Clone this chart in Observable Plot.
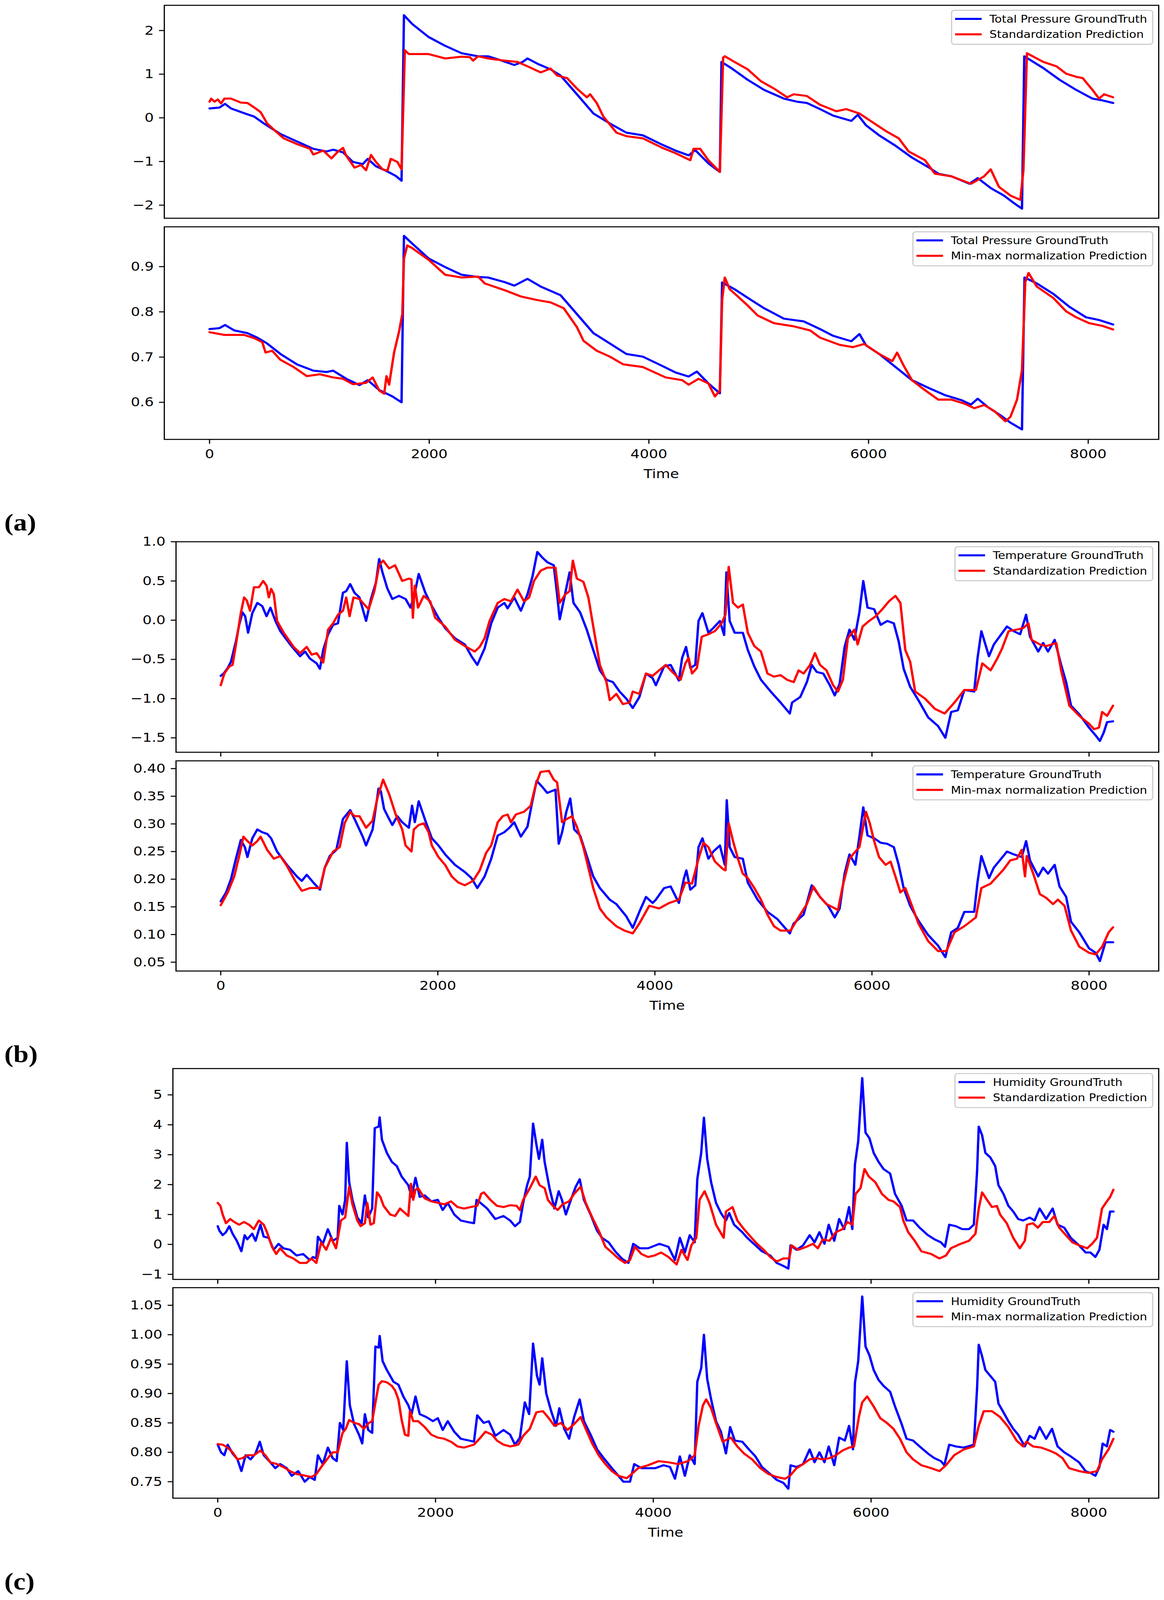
<!DOCTYPE html>
<html><head><meta charset="utf-8">
<script src="https://cdn.jsdelivr.net/npm/d3@7"></script>
<script src="https://cdn.jsdelivr.net/npm/@observablehq/plot@0.6"></script>
<style>
html,body{margin:0;padding:0;background:#fff;overflow:hidden;}
#fig{position:relative;width:2979px;height:4659px;background:#fff;overflow:hidden;transform-origin:0 0;}
#fig svg{position:absolute;left:0;max-width:none !important;overflow:visible;}
</style></head><body><div id="fig"></div><script>
// ---------- DATA (time, value) ----------
const xTicks = [0, 2000, 4000, 6000, 8000];

const pressureStdTruth = [[0,0.215],[90,0.235],[141,0.32],[195,0.215],[345,0.08],[405,0.03],[495,-0.13],[645,-0.37],[795,-0.54],[945,-0.71],[1065,-0.77],[1125,-0.73],[1215,-0.79],[1305,-1.01],[1395,-1.06],[1440,-0.94],[1515,-1.11],[1605,-1.21],[1695,-1.33],[1748,-1.44],[1770,2.35],[1845,2.15],[1995,1.85],[2145,1.65],[2295,1.48],[2445,1.41],[2535,1.41],[2625,1.34],[2775,1.21],[2850,1.28],[2895,1.36],[2985,1.24],[3105,1.11],[3195,0.97],[3345,0.54],[3495,0.10],[3645,-0.13],[3795,-0.34],[3945,-0.40],[4125,-0.62],[4242,-0.75],[4362,-0.86],[4422,-0.74],[4541,-1.04],[4646,-1.24],[4661,1.28],[4750,1.14],[4900,0.87],[5049,0.64],[5229,0.44],[5349,0.37],[5439,0.34],[5558,0.20],[5678,0.05],[5843,-0.07],[5902,0.07],[5977,-0.17],[6096,-0.40],[6246,-0.64],[6395,-0.91],[6545,-1.13],[6635,-1.28],[6755,-1.34],[6919,-1.51],[6994,-1.38],[7113,-1.61],[7232,-1.78],[7322,-1.95],[7397,-2.08],[7418,1.41],[7591,1.14],[7740,0.87],[7890,0.64],[8039,0.44],[8129,0.40],[8227,0.34]];
const pressureStdPred = [[0,0.37],[15,0.44],[45,0.37],[75,0.42],[105,0.33],[135,0.44],[195,0.44],[285,0.35],[345,0.34],[405,0.24],[465,0.13],[525,-0.13],[585,-0.27],[675,-0.47],[795,-0.60],[915,-0.71],[945,-0.84],[1035,-0.75],[1110,-0.93],[1170,-0.77],[1215,-0.69],[1245,-0.87],[1320,-1.14],[1380,-1.08],[1425,-1.20],[1470,-0.85],[1515,-1.01],[1575,-1.18],[1620,-1.21],[1650,-0.94],[1710,-1.01],[1748,-1.18],[1778,1.55],[1815,1.46],[1995,1.46],[2145,1.36],[2295,1.40],[2370,1.39],[2400,1.31],[2445,1.41],[2535,1.36],[2685,1.31],[2805,1.28],[2895,1.18],[3015,1.04],[3105,1.13],[3165,0.97],[3255,0.91],[3345,0.67],[3435,0.47],[3465,0.54],[3525,0.34],[3585,0.03],[3705,-0.34],[3795,-0.42],[3945,-0.47],[4125,-0.69],[4242,-0.81],[4377,-0.97],[4407,-0.71],[4467,-0.71],[4541,-0.97],[4646,-1.24],[4676,1.38],[4691,1.41],[4780,1.28],[4900,1.11],[5019,0.84],[5139,0.67],[5259,0.47],[5318,0.54],[5438,0.50],[5558,0.30],[5707,0.15],[5797,0.20],[5916,0.10],[6036,-0.10],[6156,-0.30],[6275,-0.47],[6365,-0.77],[6514,-0.97],[6604,-1.28],[6754,-1.34],[6933,-1.51],[7052,-1.34],[7112,-1.18],[7187,-1.58],[7292,-1.78],[7382,-1.88],[7410,-1.2],[7442,1.48],[7591,1.28],[7711,1.18],[7800,1.01],[7890,0.94],[7950,0.91],[8039,0.64],[8099,0.44],[8144,0.54],[8227,0.47]];
const pressureMmTruth = [[0,0.762],[90,0.764],[141,0.771],[225,0.759],[345,0.753],[435,0.743],[525,0.730],[645,0.707],[795,0.684],[945,0.670],[1065,0.667],[1125,0.670],[1245,0.652],[1365,0.638],[1440,0.649],[1545,0.627],[1665,0.613],[1748,0.600],[1770,0.968],[1845,0.951],[1995,0.918],[2145,0.899],[2295,0.882],[2445,0.877],[2535,0.876],[2685,0.866],[2775,0.858],[2895,0.873],[3015,0.856],[3195,0.837],[3345,0.795],[3495,0.753],[3645,0.730],[3795,0.707],[3945,0.701],[4125,0.680],[4242,0.666],[4362,0.657],[4437,0.668],[4541,0.642],[4646,0.620],[4667,0.865],[4780,0.850],[4900,0.831],[5049,0.808],[5229,0.785],[5408,0.779],[5558,0.762],[5678,0.747],[5843,0.735],[5917,0.751],[5977,0.726],[6096,0.707],[6246,0.678],[6395,0.649],[6545,0.632],[6695,0.616],[6844,0.605],[6933,0.595],[6994,0.608],[7083,0.590],[7203,0.571],[7292,0.555],[7397,0.540],[7420,0.876],[7531,0.863],[7681,0.840],[7830,0.811],[7980,0.788],[8099,0.782],[8227,0.772]];
const pressureMmPred = [[0,0.755],[135,0.749],[315,0.749],[405,0.742],[480,0.733],[510,0.710],[570,0.714],[645,0.694],[765,0.678],[885,0.658],[1005,0.662],[1125,0.655],[1215,0.652],[1305,0.640],[1425,0.643],[1485,0.655],[1545,0.626],[1590,0.619],[1611,0.658],[1635,0.639],[1680,0.710],[1725,0.756],[1755,0.795],[1770,0.918],[1800,0.947],[1845,0.941],[1995,0.915],[2145,0.882],[2295,0.876],[2445,0.878],[2505,0.863],[2685,0.848],[2835,0.834],[2985,0.826],[3105,0.821],[3225,0.808],[3345,0.766],[3405,0.736],[3525,0.714],[3645,0.701],[3765,0.684],[3945,0.678],[4153,0.655],[4302,0.649],[4362,0.639],[4452,0.652],[4541,0.642],[4601,0.613],[4646,0.626],[4667,0.827],[4691,0.876],[4736,0.850],[4810,0.834],[4900,0.814],[4990,0.792],[5139,0.775],[5318,0.768],[5468,0.759],[5558,0.743],[5737,0.727],[5857,0.722],[5961,0.729],[6096,0.707],[6216,0.691],[6260,0.710],[6320,0.681],[6395,0.649],[6485,0.632],[6634,0.606],[6754,0.606],[6874,0.597],[6963,0.587],[7053,0.594],[7143,0.581],[7247,0.558],[7292,0.568],[7352,0.606],[7397,0.671],[7427,0.866],[7457,0.886],[7531,0.856],[7681,0.831],[7800,0.801],[7890,0.788],[8009,0.775],[8129,0.769],[8227,0.761]];

const tempStdTruth = [[0,-0.71],[27,-0.68],[64,-0.61],[94,-0.53],[140,-0.27],[170,-0.06],[200,0.10],[225,0.05],[252,-0.16],[291,0.09],[337,0.22],[382,0.18],[422,0.05],[458,0.16],[504,-0.01],[549,-0.14],[640,-0.31],[731,-0.46],[777,-0.40],[822,-0.49],[883,-0.55],[914,-0.62],[944,-0.38],[989,-0.18],[1035,-0.06],[1080,-0.04],[1126,0.35],[1156,0.37],[1193,0.46],[1232,0.35],[1278,0.29],[1339,-0.01],[1384,0.27],[1430,0.48],[1460,0.78],[1490,0.61],[1536,0.40],[1581,0.27],[1642,0.31],[1703,0.27],[1748,0.16],[1788,0.35],[1824,0.59],[1885,0.35],[1945,0.18],[2006,0.03],[2067,-0.10],[2158,-0.23],[2249,-0.31],[2310,-0.46],[2364,-0.57],[2431,-0.36],[2492,-0.04],[2552,0.16],[2613,0.22],[2643,0.15],[2704,0.29],[2765,0.12],[2826,0.33],[2871,0.55],[2917,0.87],[2962,0.80],[3008,0.74],[3068,0.70],[3099,0.33],[3123,0.01],[3160,0.25],[3214,0.61],[3250,0.22],[3311,0.10],[3372,-0.12],[3432,-0.38],[3493,-0.64],[3554,-0.76],[3614,-0.79],[3675,-0.91],[3736,-1.00],[3796,-1.12],[3857,-0.98],[3918,-0.68],[3979,-0.74],[4009,-0.83],[4085,-0.59],[4145,-0.57],[4221,-0.77],[4251,-0.48],[4287,-0.34],[4327,-0.61],[4372,-0.57],[4402,-0.01],[4438,0.09],[4493,-0.16],[4538,-0.10],[4599,-0.01],[4638,-0.19],[4659,0.61],[4689,-0.01],[4735,-0.16],[4810,-0.16],[4856,-0.38],[4916,-0.59],[4977,-0.76],[5067,-0.91],[5158,-1.05],[5243,-1.19],[5264,-1.05],[5339,-0.98],[5400,-0.79],[5445,-0.57],[5491,-0.66],[5551,-0.68],[5612,-0.83],[5657,-0.96],[5702,-0.81],[5748,-0.34],[5793,-0.12],[5838,-0.25],[5884,0.10],[5920,0.50],[5959,0.16],[6020,0.14],[6080,-0.06],[6141,-0.01],[6201,-0.04],[6246,-0.27],[6292,-0.62],[6352,-0.85],[6428,-1.02],[6518,-1.24],[6609,-1.35],[6676,-1.50],[6730,-1.17],[6791,-1.15],[6851,-0.89],[6942,-0.91],[6972,-0.49],[7008,-0.14],[7078,-0.46],[7123,-0.31],[7154,-0.25],[7244,-0.08],[7305,-0.14],[7365,-0.18],[7420,0.07],[7456,-0.21],[7532,-0.40],[7577,-0.29],[7622,-0.40],[7683,-0.25],[7743,-0.57],[7789,-0.79],[7834,-1.09],[7910,-1.20],[8000,-1.37],[8061,-1.47],[8100,-1.54],[8136,-1.43],[8166,-1.30],[8221,-1.29]];
const tempStdPred = [[0,-0.83],[33,-0.68],[79,-0.59],[109,-0.57],[140,-0.31],[185,0.09],[215,0.29],[240,0.25],[270,0.12],[306,0.42],[352,0.42],[391,0.50],[422,0.44],[443,0.29],[464,0.40],[489,0.33],[519,-0.01],[580,-0.16],[671,-0.34],[731,-0.42],[792,-0.34],[838,-0.44],[883,-0.42],[944,-0.54],[989,-0.12],[1035,-0.04],[1080,0.07],[1126,0.12],[1156,0.29],[1187,0.05],[1223,0.29],[1278,0.27],[1323,0.20],[1363,0.14],[1415,0.37],[1460,0.70],[1496,0.76],[1551,0.66],[1606,0.70],[1672,0.50],[1733,0.53],[1757,0.52],[1770,0.03],[1788,0.44],[1818,0.16],[1870,0.31],[1930,0.24],[1976,0.03],[2067,-0.08],[2158,-0.25],[2249,-0.33],[2340,-0.40],[2386,-0.34],[2431,-0.23],[2477,-0.01],[2552,0.22],[2613,0.27],[2674,0.24],[2734,0.39],[2795,0.24],[2841,0.29],[2886,0.50],[2947,0.63],[3008,0.67],[3084,0.67],[3123,0.22],[3175,0.33],[3214,0.37],[3244,0.76],[3281,0.53],[3341,0.49],[3387,0.29],[3432,-0.08],[3493,-0.57],[3554,-0.79],[3584,-1.02],[3645,-0.94],[3705,-1.07],[3766,-1.05],[3796,-0.91],[3857,-0.94],[3918,-0.68],[3979,-0.71],[4039,-0.64],[4100,-0.57],[4160,-0.66],[4236,-0.76],[4281,-0.55],[4311,-0.48],[4342,-0.68],[4387,-0.61],[4432,-0.21],[4493,-0.18],[4553,-0.14],[4614,-0.04],[4650,0.07],[4680,0.68],[4720,0.22],[4765,0.16],[4810,0.20],[4856,-0.16],[4916,-0.33],[4977,-0.40],[5037,-0.68],[5097,-0.72],[5158,-0.70],[5218,-0.76],[5279,-0.79],[5324,-0.64],[5370,-0.68],[5430,-0.57],[5475,-0.42],[5521,-0.57],[5581,-0.64],[5642,-0.83],[5687,-0.91],[5732,-0.76],[5778,-0.23],[5838,-0.12],[5868,-0.31],[5914,-0.08],[5974,-0.01],[6035,0.05],[6095,0.14],[6156,0.24],[6216,0.31],[6262,0.22],[6307,-0.38],[6352,-0.53],[6398,-0.91],[6489,-1.00],[6579,-1.13],[6670,-1.19],[6760,-1.05],[6851,-0.89],[6957,-0.89],[7017,-0.55],[7093,-0.64],[7154,-0.49],[7199,-0.36],[7259,-0.14],[7335,-0.12],[7395,-0.10],[7441,-0.04],[7471,-0.25],[7547,-0.31],[7607,-0.33],[7698,-0.29],[7743,-0.64],[7819,-1.09],[7910,-1.22],[8000,-1.32],[8046,-1.39],[8091,-1.37],[8121,-1.17],[8166,-1.22],[8221,-1.09]];
const tempMmTruth = [[0,0.160],[49,0.176],[94,0.200],[140,0.237],[185,0.271],[222,0.258],[246,0.240],[291,0.274],[337,0.290],[382,0.285],[428,0.282],[464,0.274],[519,0.250],[610,0.226],[701,0.205],[747,0.197],[792,0.208],[853,0.194],[914,0.181],[959,0.221],[1005,0.242],[1065,0.253],[1126,0.309],[1193,0.325],[1247,0.303],[1308,0.277],[1339,0.261],[1399,0.290],[1454,0.364],[1475,0.359],[1505,0.327],[1551,0.309],[1581,0.298],[1627,0.314],[1672,0.303],[1733,0.293],[1763,0.333],[1788,0.303],[1824,0.341],[1885,0.306],[1945,0.274],[2006,0.261],[2067,0.245],[2158,0.226],[2249,0.213],[2310,0.202],[2364,0.184],[2431,0.205],[2492,0.237],[2552,0.279],[2613,0.285],[2659,0.293],[2704,0.303],[2765,0.277],[2826,0.295],[2871,0.341],[2911,0.378],[2962,0.367],[3008,0.356],[3084,0.362],[3114,0.264],[3145,0.285],[3184,0.322],[3220,0.346],[3257,0.290],[3311,0.279],[3372,0.242],[3432,0.205],[3493,0.184],[3584,0.163],[3645,0.155],[3736,0.133],[3796,0.112],[3857,0.141],[3918,0.168],[3979,0.157],[4009,0.163],[4085,0.184],[4145,0.187],[4221,0.157],[4266,0.200],[4290,0.216],[4327,0.181],[4372,0.189],[4402,0.258],[4438,0.274],[4493,0.237],[4538,0.250],[4599,0.261],[4644,0.226],[4662,0.343],[4689,0.258],[4735,0.240],[4810,0.237],[4856,0.194],[4946,0.163],[5037,0.141],[5128,0.128],[5243,0.102],[5279,0.120],[5370,0.136],[5445,0.189],[5521,0.168],[5596,0.152],[5657,0.131],[5702,0.147],[5748,0.210],[5793,0.245],[5847,0.226],[5884,0.277],[5920,0.330],[5959,0.279],[6020,0.274],[6080,0.266],[6141,0.264],[6201,0.258],[6246,0.226],[6292,0.184],[6352,0.152],[6428,0.125],[6518,0.099],[6609,0.080],[6676,0.059],[6730,0.104],[6791,0.112],[6851,0.141],[6942,0.141],[6972,0.194],[7008,0.242],[7078,0.202],[7123,0.221],[7169,0.232],[7244,0.250],[7305,0.245],[7380,0.240],[7420,0.269],[7456,0.234],[7532,0.205],[7577,0.221],[7622,0.210],[7683,0.226],[7728,0.187],[7789,0.168],[7834,0.123],[7910,0.104],[8000,0.075],[8061,0.067],[8100,0.052],[8151,0.086],[8221,0.086]];
const tempMmPred = [[0,0.153],[64,0.176],[124,0.205],[170,0.242],[209,0.277],[246,0.269],[291,0.261],[337,0.269],[367,0.277],[428,0.253],[489,0.237],[549,0.242],[610,0.224],[686,0.197],[747,0.179],[822,0.184],[914,0.184],[959,0.221],[1035,0.250],[1096,0.258],[1141,0.301],[1193,0.322],[1232,0.314],[1278,0.314],[1339,0.293],[1399,0.306],[1445,0.348],[1496,0.380],[1551,0.354],[1612,0.317],[1672,0.290],[1703,0.261],[1757,0.250],[1779,0.290],[1824,0.298],[1870,0.301],[1915,0.285],[1945,0.261],[2006,0.240],[2067,0.226],[2128,0.205],[2189,0.194],[2249,0.189],[2325,0.197],[2386,0.216],[2446,0.248],[2492,0.261],[2552,0.303],[2598,0.314],[2643,0.317],[2674,0.303],[2719,0.317],[2795,0.322],[2856,0.333],[2901,0.370],[2947,0.394],[3023,0.396],[3068,0.380],[3099,0.375],[3145,0.303],[3190,0.309],[3236,0.314],[3281,0.295],[3341,0.258],[3387,0.221],[3432,0.184],[3493,0.147],[3554,0.131],[3645,0.115],[3721,0.107],[3796,0.102],[3857,0.120],[3948,0.152],[4039,0.147],[4130,0.157],[4221,0.163],[4281,0.194],[4342,0.192],[4402,0.237],[4447,0.266],[4493,0.258],[4553,0.232],[4629,0.218],[4650,0.216],[4680,0.301],[4720,0.269],[4765,0.237],[4810,0.210],[4856,0.202],[4916,0.184],[4977,0.163],[5037,0.136],[5097,0.115],[5158,0.107],[5249,0.107],[5339,0.136],[5400,0.155],[5460,0.187],[5521,0.168],[5581,0.155],[5642,0.149],[5687,0.144],[5732,0.189],[5793,0.237],[5838,0.248],[5884,0.258],[5944,0.322],[5980,0.301],[6020,0.269],[6065,0.240],[6126,0.226],[6171,0.232],[6216,0.205],[6262,0.176],[6307,0.184],[6368,0.152],[6428,0.120],[6518,0.088],[6609,0.070],[6685,0.070],[6760,0.104],[6851,0.115],[6957,0.131],[7008,0.184],[7093,0.192],[7154,0.205],[7214,0.218],[7274,0.234],[7335,0.237],[7380,0.253],[7410,0.205],[7426,0.242],[7486,0.210],[7547,0.173],[7607,0.166],[7668,0.155],[7713,0.163],[7774,0.152],[7834,0.107],[7910,0.078],[8000,0.067],[8061,0.064],[8121,0.078],[8181,0.104],[8221,0.113]];

const humStdTruth = [[0,0.61],[15,0.46],[45,0.31],[75,0.41],[106,0.61],[136,0.36],[175,0.12],[217,-0.23],[247,0.31],[271,0.17],[317,0.36],[347,0.12],[392,0.66],[422,0.26],[468,0.22],[513,-0.18],[558,0.02],[603,-0.13],[664,-0.18],[724,-0.37],[784,-0.32],[845,-0.52],[875,-0.42],[905,-0.47],[920,0.26],[965,0.02],[1011,0.51],[1056,0.12],[1101,0.22],[1116,1.29],[1146,1.00],[1170,1.49],[1185,3.40],[1207,2.08],[1237,1.49],[1282,0.90],[1321,0.71],[1351,1.64],[1382,0.90],[1418,1.20],[1442,3.89],[1478,3.94],[1487,4.25],[1508,3.50],[1553,3.06],[1599,2.76],[1644,2.62],[1689,2.27],[1750,1.98],[1780,1.59],[1816,2.23],[1855,1.59],[1900,1.64],[1961,1.44],[2021,1.49],[2066,1.15],[2112,1.39],[2172,1.00],[2232,0.80],[2293,0.75],[2353,0.71],[2377,1.49],[2413,1.39],[2474,1.20],[2549,0.85],[2624,0.95],[2685,0.80],[2730,0.61],[2775,0.75],[2805,1.39],[2841,1.98],[2866,2.27],[2896,4.04],[2926,3.35],[2950,2.86],[2980,3.50],[3002,2.76],[3047,1.88],[3092,1.20],[3131,1.78],[3161,1.49],[3197,1.00],[3243,1.49],[3288,1.93],[3324,2.18],[3363,1.49],[3424,1.00],[3484,0.46],[3529,0.22],[3590,0.07],[3650,-0.23],[3710,-0.47],[3771,-0.62],[3816,0.02],[3876,-0.13],[3952,-0.13],[4057,0.02],[4139,-0.08],[4199,-0.52],[4244,0.22],[4290,-0.27],[4335,0.31],[4380,0.07],[4404,2.18],[4440,3.06],[4465,4.24],[4495,2.86],[4531,2.08],[4576,1.39],[4621,1.05],[4667,0.80],[4697,1.05],[4742,0.66],[4817,0.41],[4863,0.22],[4923,0.02],[4998,-0.23],[5074,-0.37],[5134,-0.62],[5195,-0.72],[5240,-0.81],[5261,-0.03],[5315,-0.18],[5376,-0.03],[5436,0.31],[5481,0.07],[5526,0.41],[5572,0.02],[5611,0.66],[5662,0.12],[5707,0.85],[5753,0.51],[5798,1.25],[5828,0.51],[5852,2.67],[5882,3.45],[5919,5.56],[5949,3.74],[5985,3.55],[6024,3.06],[6069,2.76],[6115,2.52],[6175,2.37],[6220,1.69],[6281,1.29],[6326,0.80],[6386,0.80],[6446,0.56],[6522,0.31],[6582,0.17],[6642,0.07],[6679,-0.08],[6718,0.66],[6778,0.61],[6838,0.51],[6899,0.51],[6944,0.66],[6974,2.47],[6989,3.94],[7020,3.65],[7050,3.06],[7095,2.91],[7140,2.62],[7170,1.98],[7216,1.69],[7261,1.29],[7306,1.10],[7351,0.85],[7397,0.80],[7457,0.90],[7502,0.80],[7548,1.20],[7608,0.85],[7668,1.20],[7713,0.66],[7774,0.56],[7834,0.22],[7910,-0.03],[7970,-0.27],[8015,-0.27],[8060,-0.42],[8097,-0.18],[8136,0.66],[8166,0.51],[8196,1.10],[8226,1.10]];
const humStdPred = [[0,1.39],[24,1.29],[45,1.00],[75,0.71],[115,0.85],[151,0.75],[196,0.66],[241,0.75],[287,0.66],[332,0.51],[377,0.80],[422,0.66],[452,0.41],[498,-0.08],[537,-0.32],[573,-0.13],[634,-0.37],[694,-0.47],[754,-0.62],[815,-0.62],[860,-0.47],[905,-0.62],[950,0.07],[996,-0.18],[1041,0.22],[1086,-0.13],[1131,0.80],[1170,0.90],[1207,1.93],[1237,1.34],[1282,0.80],[1312,0.61],[1351,0.71],[1373,1.39],[1403,0.66],[1433,0.71],[1463,1.74],[1493,1.59],[1523,1.29],[1584,1.00],[1629,0.95],[1674,1.20],[1750,0.95],[1774,2.03],[1795,1.49],[1816,1.83],[1840,1.88],[1900,1.54],[1961,1.44],[2021,1.39],[2081,1.34],[2142,1.44],[2202,1.25],[2262,1.20],[2323,1.25],[2383,1.29],[2419,1.69],[2443,1.74],[2504,1.49],[2564,1.29],[2624,1.25],[2685,1.31],[2745,1.29],[2775,1.15],[2805,1.49],[2866,1.88],[2920,2.27],[2956,1.98],[3002,1.88],[3032,1.49],[3077,1.29],[3122,1.15],[3167,1.34],[3227,1.44],[3273,1.69],[3333,1.93],[3379,1.39],[3439,0.90],[3499,0.46],[3560,-0.08],[3620,-0.27],[3680,-0.47],[3741,-0.62],[3786,-0.52],[3831,-0.08],[3891,-0.32],[3952,-0.42],[4012,-0.37],[4072,-0.27],[4139,-0.42],[4214,-0.67],[4259,-0.18],[4314,-0.52],[4350,-0.03],[4395,0.22],[4425,1.49],[4471,1.78],[4516,1.39],[4576,0.66],[4646,0.22],[4667,1.10],[4727,1.25],[4772,0.80],[4833,0.51],[4893,0.26],[4953,0.02],[5014,-0.18],[5074,-0.42],[5134,-0.57],[5195,-0.47],[5249,-0.47],[5270,-0.03],[5330,-0.18],[5406,-0.08],[5466,0.02],[5511,-0.13],[5557,0.17],[5617,0.12],[5677,0.41],[5738,0.51],[5783,0.75],[5828,0.66],[5858,1.69],[5903,1.88],[5940,2.52],[5979,2.27],[6039,2.08],[6100,1.69],[6160,1.49],[6205,1.44],[6266,1.25],[6296,0.80],[6341,0.41],[6401,0.12],[6462,-0.23],[6552,-0.32],[6628,-0.47],[6688,-0.37],[6733,-0.13],[6823,0.02],[6899,0.12],[6959,0.36],[6989,1.20],[7020,1.74],[7065,1.49],[7110,1.25],[7155,1.29],[7185,1.00],[7246,0.71],[7306,0.22],[7366,-0.13],[7412,0.12],[7433,0.66],[7487,0.71],[7532,0.56],[7577,0.75],[7638,0.75],[7683,0.95],[7728,0.56],[7789,0.31],[7849,0.07],[7910,-0.03],[7985,-0.13],[8030,0.02],[8075,0.22],[8121,1.20],[8166,1.44],[8196,1.59],[8226,1.83]];
const humMmTruth = [[0,0.813],[30,0.800],[60,0.795],[91,0.813],[136,0.798],[181,0.788],[217,0.768],[256,0.795],[302,0.788],[347,0.798],[386,0.818],[422,0.795],[483,0.783],[528,0.773],[573,0.780],[634,0.773],[679,0.760],[739,0.768],[799,0.750],[845,0.758],[890,0.753],[920,0.795],[965,0.780],[1011,0.808],[1056,0.790],[1092,0.785],[1122,0.850],[1152,0.838],[1185,0.955],[1213,0.880],[1252,0.848],[1297,0.830],[1327,0.815],[1351,0.865],[1382,0.838],[1418,0.833],[1448,0.980],[1478,0.978],[1487,0.998],[1514,0.955],[1553,0.940],[1614,0.920],[1659,0.915],[1704,0.895],[1750,0.880],[1780,0.865],[1816,0.895],[1855,0.865],[1915,0.860],[1976,0.853],[2021,0.858],[2066,0.838],[2112,0.853],[2172,0.835],[2232,0.823],[2308,0.820],[2353,0.818],[2383,0.863],[2443,0.850],[2489,0.853],[2549,0.828],[2624,0.838],[2685,0.830],[2730,0.813],[2775,0.825],[2820,0.885],[2860,0.865],[2896,0.985],[2932,0.930],[2956,0.915],[2980,0.960],[3017,0.900],[3062,0.870],[3107,0.845],[3137,0.875],[3182,0.840],[3227,0.823],[3273,0.860],[3324,0.890],[3363,0.853],[3424,0.830],[3484,0.805],[3545,0.790],[3620,0.773],[3680,0.760],[3725,0.750],[3786,0.750],[3825,0.780],[3891,0.773],[3982,0.773],[4018,0.773],[4094,0.778],[4154,0.775],[4199,0.755],[4244,0.793],[4290,0.760],[4335,0.795],[4380,0.780],[4404,0.920],[4440,0.943],[4465,1.000],[4495,0.925],[4531,0.890],[4576,0.853],[4621,0.835],[4667,0.798],[4706,0.843],[4748,0.820],[4817,0.818],[4878,0.805],[4938,0.793],[4998,0.775],[5074,0.763],[5134,0.753],[5195,0.748],[5240,0.738],[5261,0.778],[5315,0.775],[5376,0.780],[5436,0.805],[5481,0.783],[5526,0.800],[5572,0.783],[5611,0.810],[5662,0.778],[5707,0.825],[5759,0.820],[5798,0.845],[5834,0.805],[5852,0.918],[5882,0.955],[5919,1.065],[5949,0.980],[5985,0.965],[6024,0.940],[6069,0.923],[6115,0.913],[6175,0.903],[6220,0.878],[6281,0.848],[6326,0.823],[6386,0.820],[6446,0.810],[6522,0.798],[6582,0.790],[6642,0.785],[6673,0.778],[6718,0.813],[6778,0.810],[6853,0.808],[6944,0.813],[6974,0.910],[6989,0.983],[7020,0.963],[7050,0.940],[7095,0.930],[7140,0.920],[7170,0.883],[7216,0.868],[7261,0.853],[7306,0.840],[7351,0.830],[7412,0.810],[7457,0.828],[7502,0.823],[7548,0.843],[7608,0.823],[7662,0.840],[7713,0.810],[7774,0.800],[7834,0.793],[7910,0.783],[7970,0.768],[8015,0.765],[8060,0.760],[8097,0.775],[8127,0.815],[8166,0.810],[8196,0.838],[8226,0.835]];
const humMmPred = [[0,0.814],[45,0.813],[91,0.808],[136,0.800],[181,0.788],[226,0.790],[271,0.795],[332,0.795],[392,0.803],[437,0.795],[483,0.783],[543,0.780],[603,0.775],[664,0.768],[724,0.763],[784,0.761],[860,0.758],[905,0.763],[950,0.775],[1011,0.790],[1056,0.800],[1101,0.800],[1146,0.833],[1176,0.840],[1207,0.855],[1252,0.850],[1297,0.848],[1342,0.840],[1388,0.850],[1418,0.853],[1448,0.885],[1478,0.915],[1508,0.921],[1553,0.919],[1599,0.913],[1629,0.905],[1659,0.890],[1689,0.855],[1719,0.830],[1750,0.828],[1765,0.870],[1795,0.853],[1840,0.853],[1900,0.843],[1961,0.830],[2021,0.825],[2081,0.823],[2142,0.818],[2202,0.810],[2262,0.808],[2353,0.813],[2413,0.825],[2458,0.835],[2519,0.830],[2564,0.820],[2624,0.813],[2685,0.810],[2760,0.813],[2805,0.828],[2866,0.840],[2926,0.868],[2986,0.870],[3032,0.860],[3092,0.845],[3152,0.850],[3212,0.838],[3273,0.848],[3333,0.860],[3379,0.840],[3439,0.815],[3499,0.795],[3560,0.780],[3620,0.768],[3680,0.760],[3756,0.756],[3801,0.763],[3861,0.773],[3952,0.778],[4048,0.785],[4139,0.783],[4229,0.780],[4320,0.785],[4380,0.795],[4416,0.845],[4456,0.880],[4486,0.890],[4531,0.875],[4576,0.850],[4637,0.818],[4712,0.825],[4772,0.810],[4833,0.798],[4908,0.788],[4983,0.773],[5059,0.763],[5134,0.758],[5210,0.755],[5255,0.760],[5315,0.773],[5376,0.780],[5436,0.788],[5496,0.790],[5557,0.788],[5617,0.790],[5677,0.795],[5738,0.803],[5798,0.808],[5843,0.810],[5888,0.860],[5919,0.885],[5964,0.895],[6024,0.878],[6085,0.858],[6145,0.850],[6205,0.840],[6266,0.823],[6326,0.800],[6386,0.788],[6462,0.778],[6552,0.773],[6628,0.768],[6688,0.778],[6763,0.795],[6853,0.805],[6944,0.810],[6989,0.845],[7035,0.870],[7110,0.870],[7185,0.860],[7261,0.843],[7336,0.820],[7397,0.810],[7427,0.818],[7487,0.810],[7563,0.808],[7638,0.803],[7698,0.798],[7759,0.790],[7819,0.773],[7910,0.768],[8000,0.765],[8075,0.768],[8121,0.788],[8181,0.805],[8226,0.823]];

const pressureStdTicks = [-2, -1, 0, 1, 2];
const pressureMmTicks = [0.6, 0.7, 0.8, 0.9];
const tempStdTicks = [-1.5, -1.0, -0.5, 0.0, 0.5, 1.0];
const tempMmTicks = [0.05, 0.10, 0.15, 0.20, 0.25, 0.30, 0.35, 0.40];
const humStdTicks = [-1, 0, 1, 2, 3, 4, 5];
const humMmTicks = [0.75, 0.80, 0.85, 0.90, 0.95, 1.00, 1.05];

// ---------- LAYOUT ----------
const W = 2979, FULL_H = 4659, RIGHT = 2965;
const xDomain = [-412, 8642];
const fig = document.getElementById("fig");
const TICK_FONT = 37, LEG_FONT = 30, LINE_W = 6;

function panel(o) {
  const mt = 40, mb = o.xLabels ? 140 : 24;
  const h = o.bottom - o.top;
  const marks = [
    Plot.line(o.truth, {x: d => d[0], y: d => d[1], stroke: "#0000ff", strokeWidth: LINE_W}),
    Plot.line(o.pred, {x: d => d[0], y: d => d[1], stroke: "#ff0000", strokeWidth: LINE_W}),
    Plot.axisY({ticks: o.yTicks, tickFormat: d3.format(o.yFmt), tickSize: 13, tickPadding: 14, strokeWidth: 3, label: null}),
    Plot.frame({stroke: "black", strokeWidth: 3})
  ];
  if (o.xLabels) {
    marks.push(Plot.axisX({ticks: xTicks, tickSize: 13, tickPadding: 15, strokeWidth: 3, label: null, tickFormat: d3.format("d")}));
  } else if (o.xMarks) {
    marks.push(Plot.axisX({ticks: xTicks, tickSize: 13, strokeWidth: 3, label: null, fill: "none"}));
  }
  const svg = Plot.plot({
    width: W, height: h + mt + mb,
    marginLeft: o.left, marginRight: W - RIGHT, marginTop: mt, marginBottom: mb,
    x: {domain: xDomain, axis: o.xMarks ? undefined : null}, y: {domain: o.yDomain},
    style: {background: "transparent", color: "black", fontFamily: "DejaVu Sans", fontSize: TICK_FONT + "px", overflow: "visible"},
    marks
  });
  svg.style.top = (o.top - mt) + "px";
  fig.appendChild(svg);
  const s = d3.select(svg);
  s.selectAll("text").filter(function () { return this.textContent.trim() === ""; }).remove();
  if (o.xLabels) {
    s.append("text").attr("x", (o.left + RIGHT) / 2).attr("y", mt + h + 113)
      .attr("text-anchor", "middle").attr("font-family", "DejaVu Sans").attr("font-size", TICK_FONT)
      .attr("fill", "black").text("Time");
  }
  // legend
  const g = s.append("g").attr("font-family", "DejaVu Sans").attr("font-size", LEG_FONT).attr("text-anchor", "start");
  const rect = g.append("rect");
  const boxTop = mt + 15, lineY = [boxTop + 25, boxTop + 70];
  const labels = [[o.truthLabel, "#0000ff"], [o.predLabel, "#ff0000"]];
  const texts = labels.map(([t], i) => g.append("text").attr("y", lineY[i]).attr("dy", "0.36em")
    .attr("text-anchor", "start").attr("fill", "black").text(t));
  const tw = Math.max(...texts.map(t => t.node().getComputedTextLength()));
  const boxW = 97 + tw + 14, boxL = 2950 - boxW;
  rect.attr("x", boxL).attr("y", boxTop).attr("width", boxW).attr("height", 99).attr("rx", 7)
    .attr("fill", "white").attr("fill-opacity", 0.8).attr("stroke", "#cccccc").attr("stroke-width", 3);
  texts.forEach(t => t.attr("x", boxL + 97));
  labels.forEach(([, c], i) => g.append("line").attr("x1", boxL + 9).attr("x2", boxL + 77)
    .attr("y1", lineY[i]).attr("y2", lineY[i]).attr("stroke", c).attr("stroke-width", 6));
}

panel({truth: pressureStdTruth, pred: pressureStdPred, truthLabel: "Total Pressure GroundTruth", predLabel: "Standardization Prediction",
  yDomain: [-2.30, 2.577], yTicks: pressureStdTicks, yFmt: "d", left: 420, top: 15, bottom: 635, xMarks: false, xLabels: false});
panel({truth: pressureMmTruth, pred: pressureMmPred, truthLabel: "Total Pressure GroundTruth", predLabel: "Min-max normalization Prediction",
  yDomain: [0.518, 0.988], yTicks: pressureMmTicks, yFmt: ".1f", left: 420, top: 660, bottom: 1279, xMarks: true, xLabels: true});
panel({truth: tempStdTruth, pred: tempStdPred, truthLabel: "Temperature GroundTruth", predLabel: "Standardization Prediction",
  yDomain: [-1.684, 1.0], yTicks: tempStdTicks, yFmt: ".1f", left: 450, top: 1577, bottom: 2190, xMarks: true, xLabels: false});
panel({truth: tempMmTruth, pred: tempMmPred, truthLabel: "Temperature GroundTruth", predLabel: "Min-max normalization Prediction",
  yDomain: [0.034, 0.414], yTicks: tempMmTicks, yFmt: ".2f", left: 450, top: 2215, bottom: 2827, xMarks: true, xLabels: true});
panel({truth: humStdTruth, pred: humStdPred, truthLabel: "Humidity GroundTruth", predLabel: "Standardization Prediction",
  yDomain: [-1.17, 5.88], yTicks: humStdTicks, yFmt: "d", left: 442, top: 3111, bottom: 3725, xMarks: true, xLabels: false});
panel({truth: humMmTruth, pred: humMmPred, truthLabel: "Humidity GroundTruth", predLabel: "Min-max normalization Prediction",
  yDomain: [0.722, 1.080], yTicks: humMmTicks, yFmt: ".2f", left: 442, top: 3749, bottom: 4362, xMarks: true, xLabels: true});

// sub-figure labels
const lab = d3.select(fig).append("svg").attr("width", W).attr("height", FULL_H).style("top", "0px").style("pointer-events", "none");
[["(a)", 1545], ["(b)", 3093], ["(c)", 4628]].forEach(([t, y]) =>
  lab.append("text").attr("x", 11).attr("y", y).attr("font-family", "Liberation Serif").attr("font-weight", "bold")
    .attr("font-size", 70).attr("fill", "black").text(t));

// fit the whole figure into the visible viewport height if the window is shorter than the figure
const viewH = window.innerHeight || FULL_H;
if (viewH < FULL_H) {
  fig.style.transform = `scale(1, ${viewH / FULL_H})`;
  document.body.style.height = viewH + "px";
}
</script></body></html>
